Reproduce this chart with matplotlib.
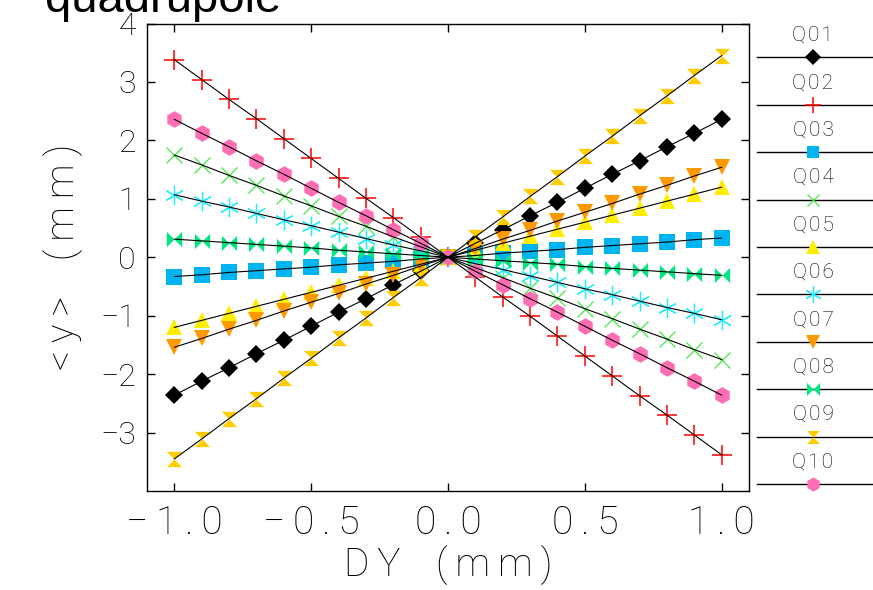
import matplotlib
matplotlib.use("Agg")
import matplotlib.pyplot as plt
from matplotlib.path import Path

dy = [-1.0, -0.9, -0.8, -0.7, -0.6, -0.5, -0.4, -0.3, -0.2, -0.1, 0.0,
      0.1, 0.2, 0.3, 0.4, 0.5, 0.6, 0.7, 0.8, 0.9, 1.0]

q01 = [-2.36, -2.12, -1.89, -1.65, -1.42, -1.18, -0.94, -0.71, -0.47, -0.24, 0.0,
       0.24, 0.47, 0.71, 0.94, 1.18, 1.42, 1.65, 1.89, 2.12, 2.36]
q02 = [3.38, 3.04, 2.70, 2.37, 2.03, 1.69, 1.35, 1.01, 0.68, 0.34, 0.0,
       -0.34, -0.68, -1.01, -1.35, -1.69, -2.03, -2.37, -2.70, -3.04, -3.38]
q03 = [-0.33, -0.30, -0.26, -0.23, -0.20, -0.17, -0.13, -0.10, -0.07, -0.03, 0.0,
       0.03, 0.07, 0.10, 0.13, 0.17, 0.20, 0.23, 0.26, 0.30, 0.33]
q04 = [1.75, 1.58, 1.40, 1.23, 1.05, 0.88, 0.70, 0.53, 0.35, 0.18, 0.0,
       -0.18, -0.35, -0.53, -0.70, -0.88, -1.05, -1.23, -1.40, -1.58, -1.75]
q05 = [-1.20, -1.08, -0.96, -0.84, -0.72, -0.60, -0.48, -0.36, -0.24, -0.12, 0.0,
       0.12, 0.24, 0.36, 0.48, 0.60, 0.72, 0.84, 0.96, 1.08, 1.20]
q06 = [1.07, 0.96, 0.86, 0.75, 0.64, 0.54, 0.43, 0.32, 0.21, 0.11, 0.0,
       -0.11, -0.21, -0.32, -0.43, -0.54, -0.64, -0.75, -0.86, -0.96, -1.07]
q07 = [-1.54, -1.39, -1.23, -1.08, -0.92, -0.77, -0.62, -0.46, -0.31, -0.15, 0.0,
       0.15, 0.31, 0.46, 0.62, 0.77, 0.92, 1.08, 1.23, 1.39, 1.54]
q08 = [0.31, 0.28, 0.25, 0.22, 0.19, 0.16, 0.12, 0.09, 0.06, 0.03, 0.0,
       -0.03, -0.06, -0.09, -0.12, -0.16, -0.19, -0.22, -0.25, -0.28, -0.31]
q09 = [-3.45, -3.11, -2.76, -2.42, -2.07, -1.73, -1.38, -1.04, -0.69, -0.35, 0.0,
       0.35, 0.69, 1.04, 1.38, 1.73, 2.07, 2.42, 2.76, 3.11, 3.45]
q10 = [2.36, 2.12, 1.89, 1.65, 1.42, 1.18, 0.94, 0.71, 0.47, 0.24, 0.0,
       -0.24, -0.47, -0.71, -0.94, -1.18, -1.42, -1.65, -1.89, -2.12, -2.36]

names = ["Q01", "Q02", "Q03", "Q04", "Q05", "Q06", "Q07", "Q08", "Q09", "Q10"]
series = [q01, q02, q03, q04, q05, q06, q07, q08, q09, q10]

xticks = [-1.0, -0.5, 0.0, 0.5, 1.0]
xticklabels = ["\u22121.0", "\u22120.5", "0.0", "0.5", "1.0"]
yticks = [-3, -2, -1, 0, 1, 2, 3, 4]
yticklabels = ["\u22123", "\u22122", "\u22121", "0", "1", "2", "3", "4"]
xlabel = "DY (mm)"
ylabel = "<y> (mm)"
title = "quadrupole"


def spaced(s, sp="\u2009"):
    return sp.join(s.replace(" ", "\u2002"))


bowtie = Path([(-1, -1), (-1, 1), (0, 0), (1, 1), (1, -1), (0, 0), (-1, -1)],
              [Path.MOVETO] + [Path.LINETO] * 5 + [Path.CLOSEPOLY])
hourglass = Path([(-1, 1), (1, 1), (0, 0), (1, -1), (-1, -1), (0, 0), (-1, 1)],
                 [Path.MOVETO] + [Path.LINETO] * 5 + [Path.CLOSEPOLY])

styles = [
    dict(marker="D", color="black", ms=9, mew=0),
    dict(marker="+", color="#ff0000", ms=14, mew=1.1),
    dict(marker="s", color="#00b4f0", ms=11, mew=0),
    dict(marker="x", color="#44e844", ms=11, mew=0.9),
    dict(marker="^", color="#ffee00", ms=12, mew=0),
    dict(marker=(6, 2, 0), color="#22eeff", ms=14, mew=0.9),
    dict(marker="v", color="#ff9900", ms=12, mew=0),
    dict(marker=bowtie, color="#00e680", ms=11, mew=0),
    dict(marker=hourglass, color="#ffcc00", ms=11, mew=0),
    dict(marker="h", color="#ff6eb4", ms=12, mew=0),
]

tick_font = dict(family=["Roboto", "DejaVu Sans"], weight="light", color="black")

fig = plt.figure(figsize=(8.73, 5.90), dpi=100)
ax = fig.add_axes([147 / 873, 1 - 491 / 590, (749 - 147) / 873, (491 - 23.5) / 590])

for vals, st in zip(series, styles):
    ax.plot(dy, vals, linestyle="none", marker=st["marker"], markersize=st["ms"],
            markerfacecolor=st["color"], markeredgecolor=st["color"],
            markeredgewidth=st["mew"], zorder=2)
    ax.plot(dy, vals, color="black", lw=0.8, zorder=3)

ax.set_xlim(-1.1, 1.1)
ax.set_ylim(-4, 4)
ax.set_xticks(xticks)
ax.set_xticklabels([spaced(t) for t in xticklabels], fontsize=28, **tick_font)
ax.set_yticks(yticks)
ax.set_yticklabels(yticklabels, fontsize=23, **tick_font)
ax.tick_params(axis="both", direction="in", length=6, width=1, top=True, right=True)
ax.tick_params(axis="x", pad=10)
ax.tick_params(axis="y", pad=8)
for s in ax.spines.values():
    s.set_linewidth(1.0)
ax.set_xlabel(spaced(xlabel), fontsize=28, labelpad=2, **tick_font)
ax.set_ylabel(spaced(ylabel), fontsize=28, labelpad=12, **tick_font)

fig.text(45 / 873, 1 - 12 / 590, title, fontsize=34,
         family=["Liberation Sans", "DejaVu Sans"], va="baseline", ha="left")

# legend drawn to the right of the axes
lax = fig.add_axes([0, 0, 1, 1], zorder=5)
lax.set_xlim(0, 873)
lax.set_ylim(590, 0)
lax.axis("off")
lax.patch.set_alpha(0)
y0, step = 57.3, 47.4
for i, (nm, st) in enumerate(zip(names, styles)):
    yl = y0 + i * step
    lax.plot([757, 873], [yl, yl], color="black", lw=1.0)
    lax.plot([813], [yl], linestyle="none", marker=st["marker"], markersize=st["ms"] * 0.85,
             markerfacecolor=st["color"], markeredgecolor=st["color"],
             markeredgewidth=st["mew"])
    lax.text(813, yl - 22, spaced(nm, "\u200a"), fontsize=15, ha="center", va="center",
             **tick_font)

fig.savefig("out.png", dpi=100)
